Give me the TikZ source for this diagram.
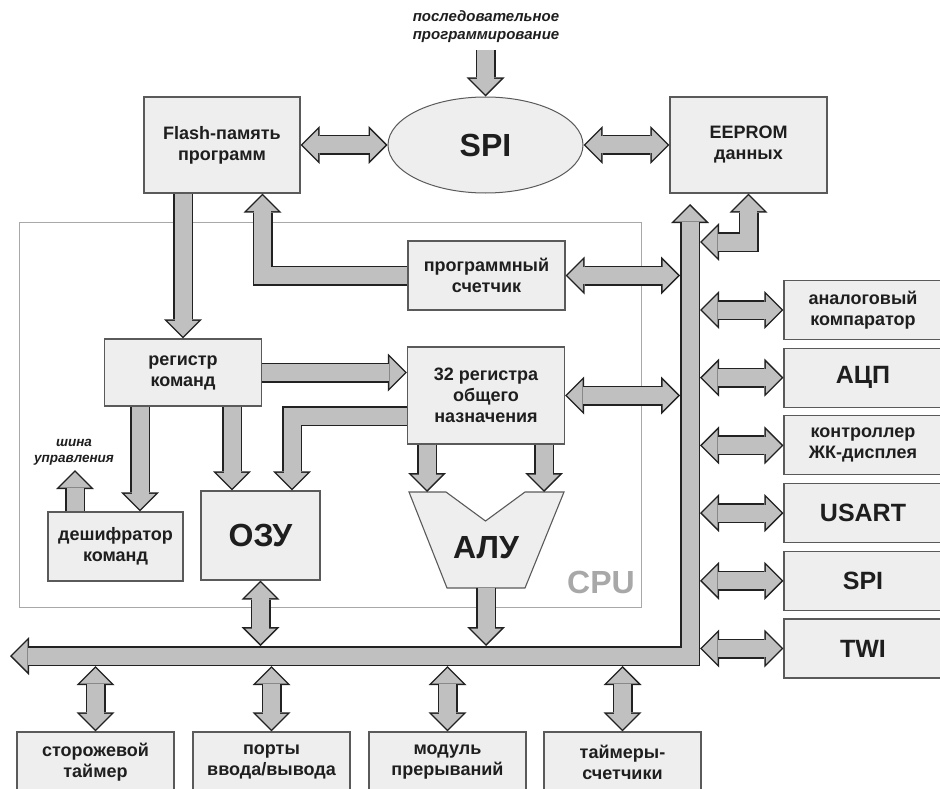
\documentclass[tikz,border=0pt]{standalone}
\usepackage{fontspec}
\setmainfont{Liberation Sans}
\usetikzlibrary{arrows.meta,shapes.geometric,calc}
\definecolor{mcBox}{RGB}{238,238,238}
\definecolor{mcLine}{RGB}{90,90,90}
\definecolor{mcBus}{RGB}{192,192,192}
\definecolor{mcEdge}{RGB}{34,34,34}
\definecolor{mcCpu}{RGB}{168,168,168}
\definecolor{mcText}{RGB}{30,30,30}
\newcommand{\fsbig}{\fontsize{32}{36}\selectfont}
\newcommand{\fsmid}{\fontsize{25}{28}\selectfont}
\tikzset{
  fatin/.tip={Triangle[length=15.4pt,width=30.8pt,line width=0pt]},
  fatout/.tip={Triangle[length=19pt,width=38pt,line width=0pt]}
}

\begin{document}
\begin{tikzpicture}[
  x=1pt, y=-1pt,
  font=\fontsize{18}{21}\selectfont\bfseries, text=mcText,
  b/.style={draw=mcLine, fill=mcBox, line width=1.1pt, align=center, inner sep=0pt, minimum width=157pt, minimum height=69pt},
  r/.style={b, minimum width=158pt, minimum height=59pt},
  fa/.style={draw=mcBus, line width=17pt, line join=miter, arrows={fatin-fatin}, shorten <=2.1pt, shorten >=2.1pt,
    preaction={draw=mcEdge, line width=20pt, line join=miter, arrows={fatout-fatout}, shorten <=0pt, shorten >=0pt}},
  fo/.style={draw=mcBus, line width=17pt, line join=miter, arrows={-fatin}, shorten >=2.1pt,
    preaction={draw=mcEdge, line width=20pt, line join=miter, arrows={-fatout}, shorten >=0pt}}
]
\useasboundingbox (0,0) rectangle (940,789);
% CPU frame
\node[draw=mcCpu, line width=1pt, minimum width=622pt, minimum height=385pt, inner sep=0pt] (cpu) at (330,414.5) {};
\node[text=mcCpu, font=\fsbig\bfseries] (cpulbl) at (601,582) {CPU};
% top row
\node[b, minimum width=156pt, minimum height=96pt] (flash) at (222,145) {Flash-память\\программ};
\node[draw=mcLine, fill=mcBox, ellipse, line width=1pt, minimum width=195pt, minimum height=96pt, inner sep=0pt, font=\fsbig\bfseries] (spi) at (485.5,145) {SPI};
\node[b, minimum height=96pt] (eeprom) at (748.5,145) {EEPROM\\данных};
\node[font=\fontsize{15}{18}\selectfont\bfseries\itshape, align=center] (serial) at (486,27) {последовательное\\программирование};
\coordinate (serin) at (485.5,50);
% core
\node[b] (pc) at (486.5,275.5) {программный\\счетчик};
\node[b, minimum height=67pt] (cmd) at (183,372.5) {регистр\\команд};
\node[b, minimum height=97pt] (gpr) at (486,395.5) {32 регистра\\общего\\назначения};
\node[b, minimum width=119pt, minimum height=89pt, font=\fsbig\bfseries] (ram) at (260.5,535.5) {ОЗУ};
\node[b, minimum width=135pt] (dec) at (115.5,546.5) {дешифратор\\команд};
\node[font=\fontsize{13.5}{16.5}\selectfont\bfseries\itshape, align=center] (ctltxt) at (74,452.5) {шина\\управления};
\coordinate (ctl) at (75,470);
\draw[draw=mcLine, fill=mcBox, line width=1.1pt] (409,492) -- (446,492) -- (485.5,521) -- (525,492) -- (564,492) -- (525,588) -- (447,588) -- cycle;
\node[font=\fsbig\bfseries] (alu) at (486,548) {АЛУ};
\coordinate (alul) at (427,492);
\coordinate (alur) at (544,492);
\coordinate (alub) at (486,588);
% peripherals
\node[r] (acmp) at (863,310) {аналоговый\\компаратор};
\node[r, font=\fsmid\bfseries] (adc) at (863,377.7) {АЦП};
\node[r] (lcd) at (863,445.4) {контроллер\\ЖК-дисплея};
\node[r, font=\fsmid\bfseries] (usart) at (863,513.1) {USART};
\node[r, font=\fsmid\bfseries] (spib) at (863,580.8) {SPI};
\node[r, font=\fsmid\bfseries] (twi) at (863,648.5) {TWI};
\node[b, minimum height=60pt] (wdt) at (95.5,762) {сторожевой\\таймер};
\node[b, minimum height=60pt] (port) at (271.5,762) {порты\\ввода/вывода};
\node[b, minimum height=60pt] (irq) at (447.5,762) {модуль\\прерываний};
\node[b, minimum height=60pt] (tmr) at (622.5,762) {таймеры-\\счетчики};
% bus
\coordinate (busw) at (10,656);
\coordinate (busk) at (690,656);
\coordinate (busn) at (690,204);
\coordinate (bin) at (680,646);
\coordinate (bout) at (700,666);
\coordinate (ee) at (700,242);
\draw[fa] (busw) -- (busk) -- (busn);
% links
\draw[fo] (serin) -- (spi.north);
\draw[fa] (flash.east) -- (spi.west);
\draw[fa] (spi.east) -- (eeprom.west);
\draw[fa] (ee) -| (eeprom.south);
\draw[fo] (flash.south -| cmd.north) -- (cmd.north);
\draw[fo] (pc.west) -| ([xshift=40.5pt]flash.south);
\draw[fa] (pc.east) -- (pc.east -| bin);
\draw[fo] (cmd.east) -- (cmd.east -| gpr.west);
\draw[fa] (gpr.east) -- (gpr.east -| bin);
\draw[fo] ([xshift=-43pt]cmd.south) -- ([xshift=-43pt]cmd.south |- dec.north);
\draw[fo] (dec.north -| ctl) -- (ctl);
\draw[fo] ([xshift=49pt]cmd.south) -- ([xshift=49pt]cmd.south |- ram.north);
\draw[fo] ([yshift=-20.5pt]gpr.west) -| ([xshift=31.5pt]ram.north);
\draw[fo] (gpr.south -| alul) -- (alul);
\draw[fo] (gpr.south -| alur) -- (alur);
\draw[fo] (alub) -- (alub |- bin);
\draw[fa] (ram.south) -- (ram.south |- bin);
\draw[fa] (acmp.west -| bout) -- (acmp.west);
\draw[fa] (adc.west -| bout) -- (adc.west);
\draw[fa] (lcd.west -| bout) -- (lcd.west);
\draw[fa] (usart.west -| bout) -- (usart.west);
\draw[fa] (spib.west -| bout) -- (spib.west);
\draw[fa] (twi.west -| bout) -- (twi.west);
\draw[fa] (wdt.north |- bout) -- (wdt.north);
\draw[fa] (port.north |- bout) -- (port.north);
\draw[fa] (irq.north |- bout) -- (irq.north);
\draw[fa] (tmr.north |- bout) -- (tmr.north);
\end{tikzpicture}
\end{document}
